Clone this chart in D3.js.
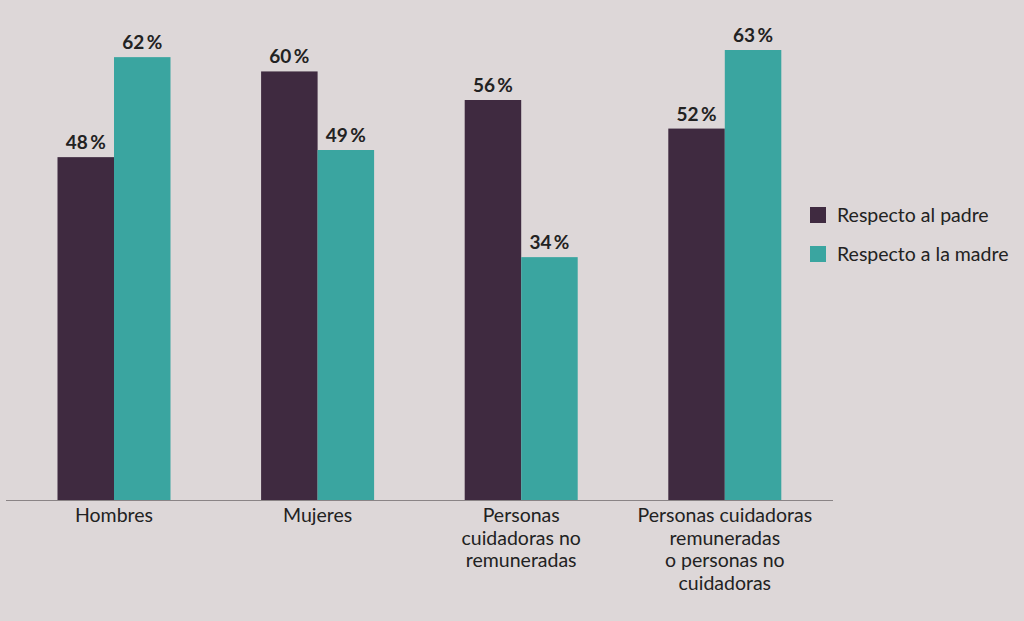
<!DOCTYPE html>
<html>
<head>
<meta charset="utf-8">
<script src="https://cdn.jsdelivr.net/npm/d3@7"></script>
<style>
  body { margin: 0; background: #ddd7d8; }
  svg { display: block; font-family: Lato, "Open Sans", sans-serif; }
  .val { font-weight: bold; font-size: 19px; fill: #222; }
  .cat { font-size: 19.5px; fill: #222; }
  .leg { font-size: 19.5px; fill: #222; }
</style>
</head>
<body>
<div id="chart"></div>
<script>
var categories = [
  ["Hombres"],
  ["Mujeres"],
  ["Personas", "cuidadoras no", "remuneradas"],
  ["Personas cuidadoras", "remuneradas", "o personas no", "cuidadoras"]
];
var seriesNames = ["Respecto al padre", "Respecto a la madre"];
var padre = [48, 60, 56, 52];
var madre = [62, 49, 34, 63];
var colors = ["#3f2a40", "#3aa5a0"];

var width = 1024, height = 621;
var svg = d3.select("#chart").append("svg")
  .attr("width", width).attr("height", height);

svg.append("rect").attr("width", width).attr("height", height).attr("fill", "#ddd7d8");

var baseY = 500;
var y = d3.scaleLinear().domain([0, 70]).range([baseY, 0]);

var x0 = d3.scaleBand()
  .domain(d3.range(categories.length))
  .range([12.2, 826.6])
  .paddingInner(0.445)
  .paddingOuter(0.2225);
var x1 = d3.scaleBand()
  .domain([0, 1])
  .range([0, x0.bandwidth()]);

var rows = categories.map(function(c, i) {
  return { i: i, vals: [padre[i], madre[i]] };
});

var g = svg.selectAll(".grp").data(rows).enter().append("g")
  .attr("transform", function(d) { return "translate(" + x0(d.i) + ",0)"; });

g.selectAll("rect").data(function(d) { return d.vals; }).enter().append("rect")
  .attr("x", function(d, j) { return x1(j); })
  .attr("y", function(d) { return y(d); })
  .attr("width", x1.bandwidth())
  .attr("height", function(d) { return baseY - y(d); })
  .attr("fill", function(d, j) { return colors[j]; });

g.selectAll("text.val").data(function(d) { return d.vals; }).enter().append("text")
  .attr("class", "val")
  .attr("text-anchor", "middle")
  .attr("x", function(d, j) { return x1(j) + x1.bandwidth() / 2; })
  .attr("y", function(d) { return y(d) - 8; })
  .text(function(d) { return d + "\u2009%"; });

// baseline
svg.append("line")
  .attr("x1", 6).attr("x2", 833)
  .attr("y1", baseY + 0.5).attr("y2", baseY + 0.5)
  .attr("stroke", "#8a8486").attr("stroke-width", 1.2);

// category labels
var cl = svg.selectAll(".cat").data(categories).enter().append("text")
  .attr("class", "cat")
  .attr("text-anchor", "middle")
  .attr("x", function(d, i) { return x0(i) + x0.bandwidth() / 2; })
  .attr("y", 522);
cl.selectAll("tspan").data(function(d) { return d; }).enter().append("tspan")
  .attr("x", function() { return d3.select(this.parentNode).attr("x"); })
  .attr("dy", function(d, k) { return k === 0 ? 0 : 22.7; })
  .text(function(d) { return d; });

// legend
var leg = svg.selectAll(".legi").data(seriesNames).enter().append("g")
  .attr("transform", function(d, i) { return "translate(810," + (207 + i * 39) + ")"; });
leg.append("rect").attr("width", 16).attr("height", 16)
  .attr("fill", function(d, i) { return colors[i]; });
leg.append("text").attr("class", "leg")
  .attr("x", 27).attr("y", 15)
  .text(function(d) { return d; });
</script>
</body>
</html>
